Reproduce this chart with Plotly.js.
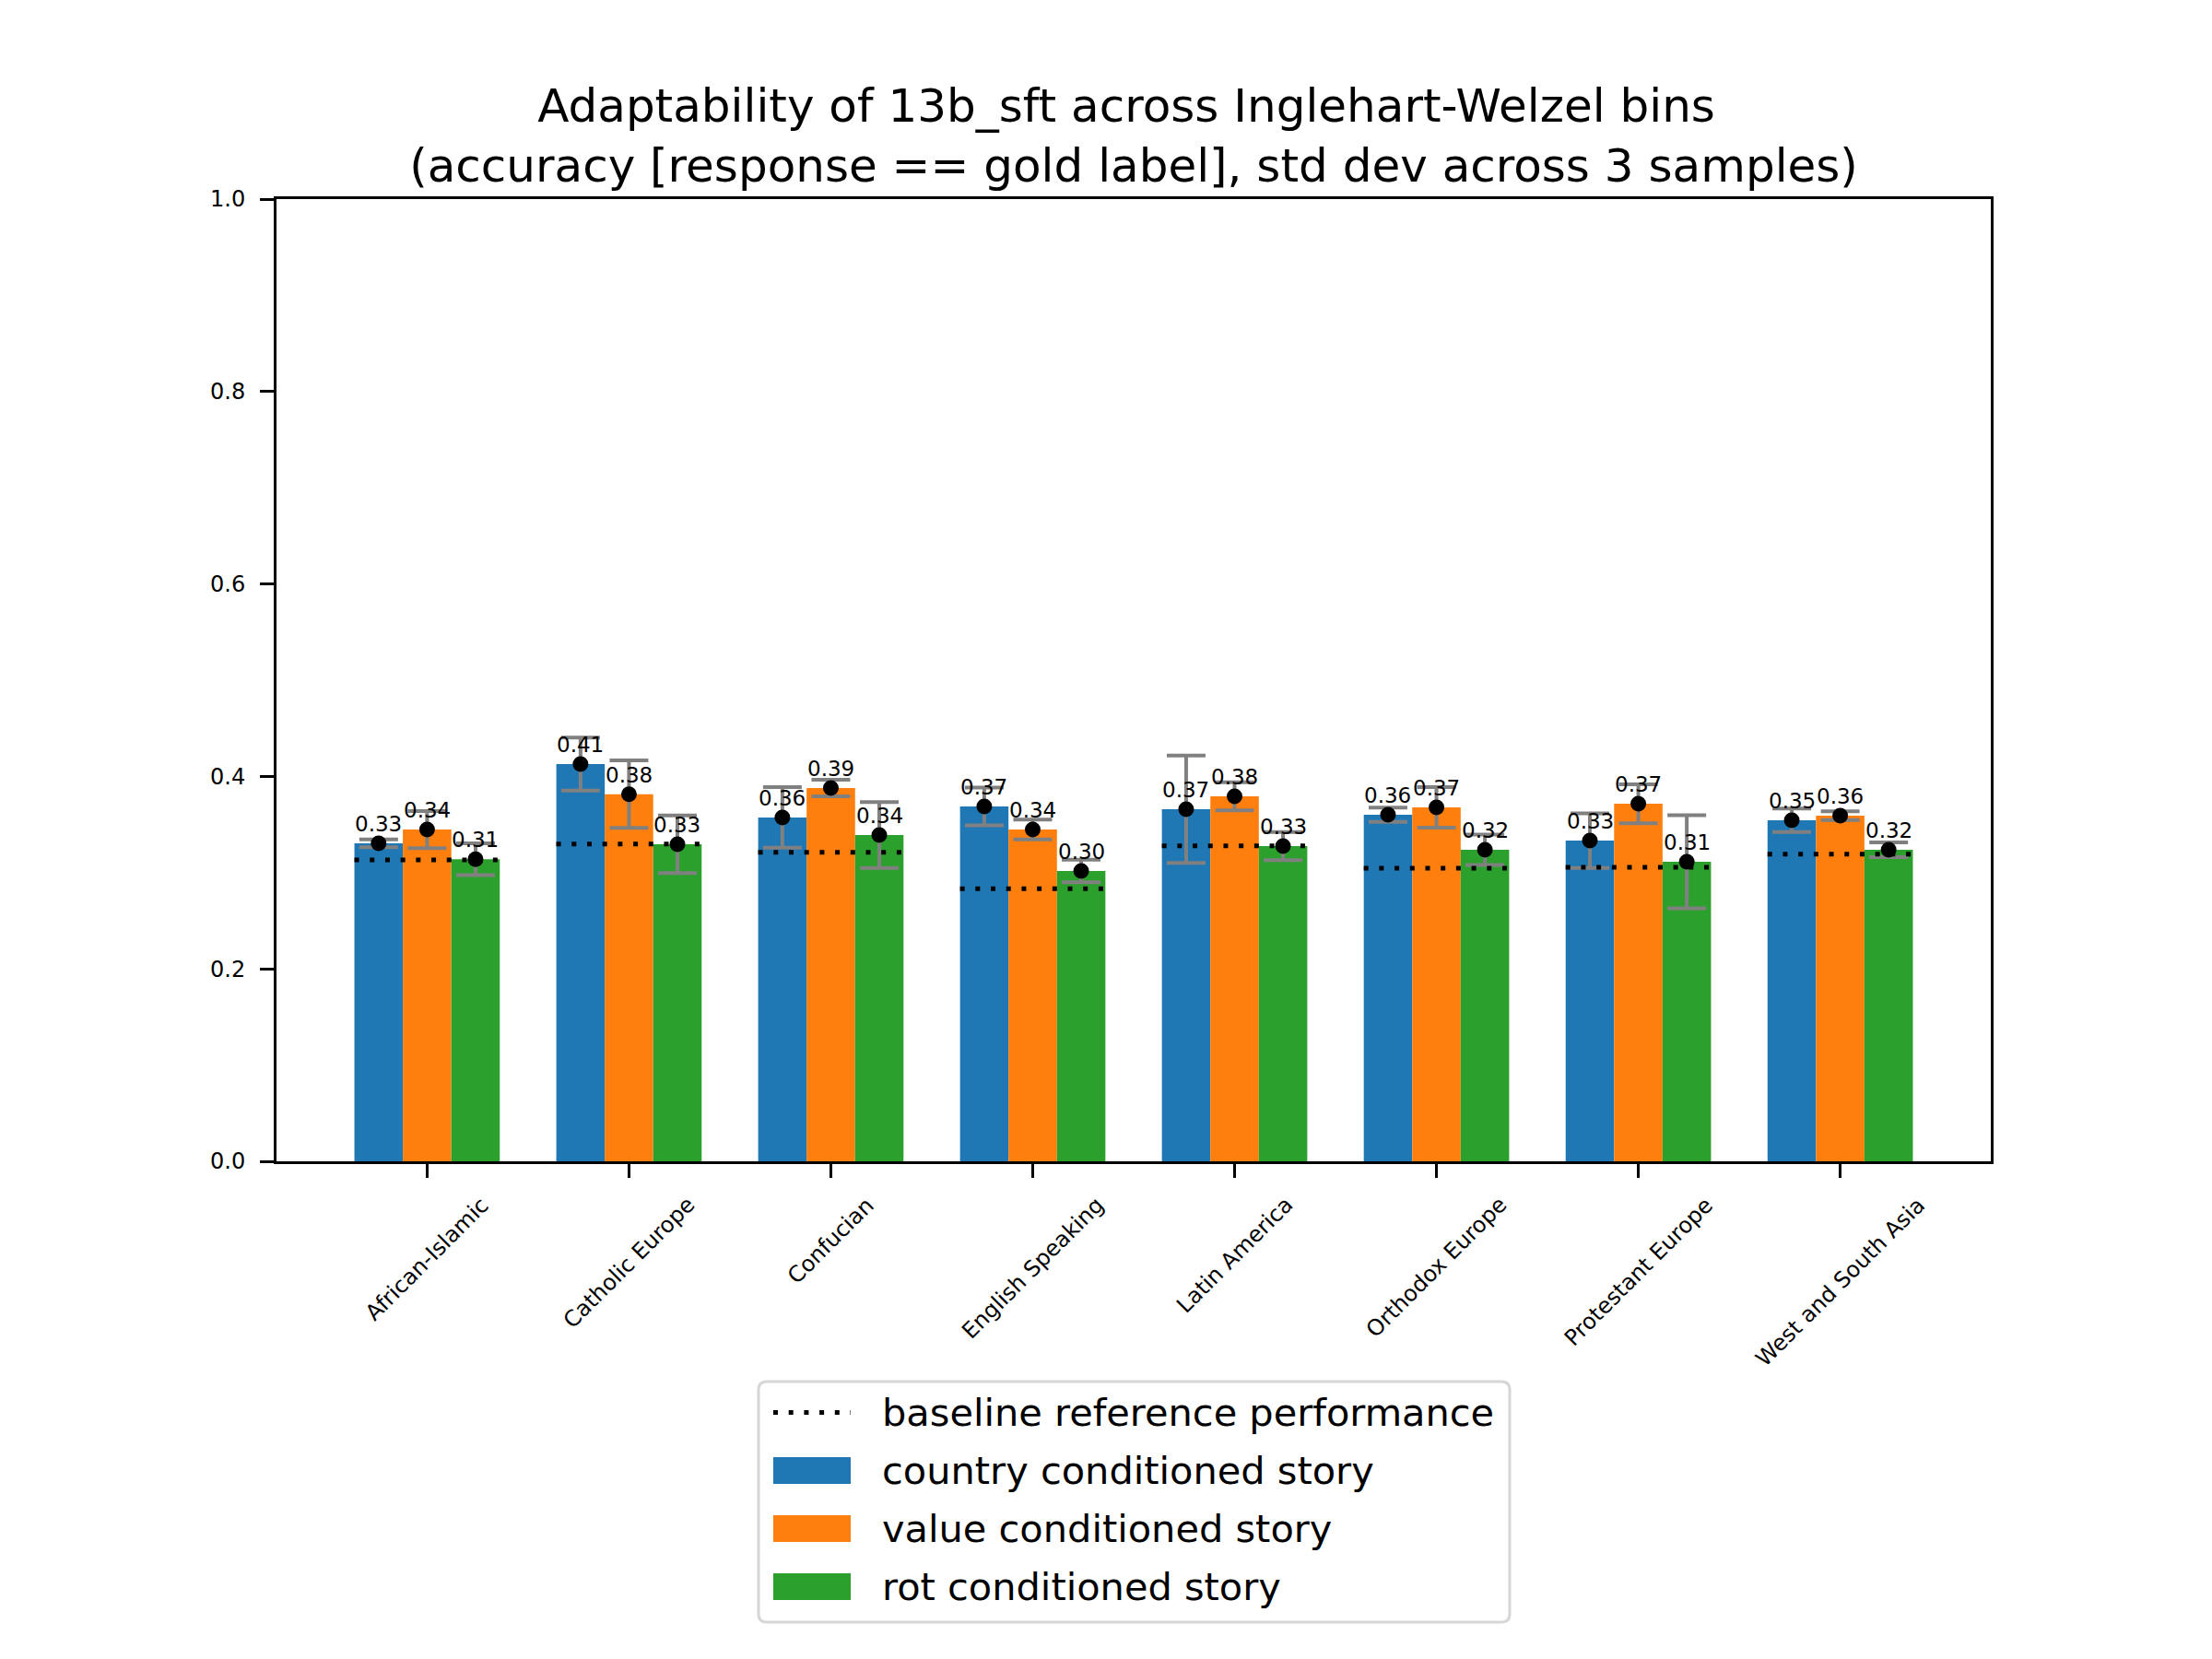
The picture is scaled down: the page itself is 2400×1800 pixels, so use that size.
<!DOCTYPE html>
<html>
<head>
<meta charset="utf-8">
<script src="https://cdn.plot.ly/plotly-3.0.1.min.js"></script>
<style>html,body{margin:0;padding:0;background:#fff;}#chart{width:2400px;height:1800px;}</style>
</head>
<body>
<div id="chart"></div>
<script>
// ---- data ----
const categories = ["African-Islamic", "Catholic Europe", "Confucian", "English Speaking", "Latin America", "Orthodox Europe", "Protestant Europe", "West and South Asia"];
const countryStory = [0.3305, 0.4128, 0.3573, 0.3688, 0.3659, 0.3602, 0.3333, 0.3544];
const countryStd   = [0.0040, 0.0276, 0.0315, 0.0197, 0.0559, 0.0074, 0.0284, 0.0121];
const valueStory   = [0.3448, 0.3815, 0.3879, 0.3448, 0.3793, 0.3678, 0.3716, 0.3592];
const valueStd     = [0.0193, 0.0351, 0.0087, 0.0103, 0.0145, 0.0211, 0.0202, 0.0045];
const rotStory     = [0.3139, 0.3295, 0.3391, 0.3017, 0.3276, 0.3238, 0.3113, 0.3238];
const rotStd       = [0.0166, 0.0299, 0.0342, 0.0118, 0.0146, 0.0158, 0.0484, 0.0077];
const baseline     = [0.3132, 0.3298, 0.3212, 0.2832, 0.3279, 0.3046, 0.3056, 0.3193];
const seriesNames  = ["country conditioned story", "value conditioned story", "rot conditioned story"];
const baselineName = "baseline reference performance";
const yTicks = [0, 0.2, 0.4, 0.6, 0.8, 1.0];
const titleLines = ["Adaptability of 13b_sft across Inglehart-Welzel bins\u00a0", "(accuracy [response == gold label], std dev across 3 samples)"];

// ---- styling ----
const colors = ["#1f77b4", "#ff7f0e", "#2ca02c"];
const FONT = "DejaVu Sans";
const barW = 0.24;
const offsets = [-barW, 0, barW];
const W = 2400, H = 1800;
const M = {l: 300, r: 240, t: 216, b: 540};
const plotW = W - M.l - M.r, plotH = H - M.t - M.b;
const px2x = p => (p - M.l) / plotW;       // pixel -> paper x
const px2y = p => (H - M.b - p) / plotH;   // pixel -> paper y
const dotDash = "5px,11.7px";

const seriesVals = [countryStory, valueStory, rotStory];
const seriesStd = [countryStd, valueStd, rotStd];
const idx = categories.map((_, i) => i);

const traces = [];
// bars
seriesVals.forEach((vals, s) => {
  traces.push({
    type: "bar", name: seriesNames[s],
    x: idx.map(i => i + offsets[s]), y: vals, width: barW,
    marker: {color: colors[s], line: {width: 0}},
    showlegend: false, hoverinfo: "skip"
  });
});
// error bars
seriesVals.forEach((vals, s) => {
  traces.push({
    type: "scatter", mode: "markers",
    x: idx.map(i => i + offsets[s]), y: vals,
    marker: {size: 2, color: "rgba(0,0,0,0)"},
    error_y: {type: "data", array: seriesStd[s], visible: true, color: "#808080", thickness: 4, width: 21},
    showlegend: false, hoverinfo: "skip"
  });
});
// baseline dotted lines
const bx = [], by = [];
idx.forEach(i => { bx.push(i - 1.5 * barW, i + 1.5 * barW, null); by.push(baseline[i], baseline[i], null); });
traces.push({
  type: "scatter", mode: "lines", name: baselineName, x: bx, y: by,
  line: {color: "black", width: 5, dash: dotDash}, showlegend: false, hoverinfo: "skip"
});
// mean dots
seriesVals.forEach((vals, s) => {
  traces.push({
    type: "scatter", mode: "markers",
    x: idx.map(i => i + offsets[s]), y: vals,
    marker: {size: 17, color: "black"}, showlegend: false, hoverinfo: "skip"
  });
});

const annotations = [];
// value labels
seriesVals.forEach((vals, s) => {
  vals.forEach((v, i) => {
    annotations.push({
      x: i + offsets[s], y: v, xref: "x", yref: "y", text: v.toFixed(2),
      showarrow: false, xanchor: "center", yanchor: "bottom", yshift: 6,
      font: {family: FONT, size: 23, color: "black"}
    });
  });
});
// rotated category labels
categories.forEach((c, i) => {
  annotations.push({
    x: i, y: px2y(1292), xref: "x", yref: "paper", text: c, textangle: -45,
    showarrow: false, xanchor: "center", yanchor: "top", borderpad: 0,
    font: {family: FONT, size: 24, color: "black"}
  });
});

// manual legend
const legLeft = 823, legRight = 1638, legTop = 1499, legBottom = 1760, legR = 9;
const rowY = [1532.5, 1595.5, 1658.5, 1721.5];
const patchL = 839, patchR = 923, patchH = 29, textX = 956;
const shapes = [];
function roundRectPath(l, r, t, b, rad) {
  const X = px2x, Y = px2y;
  return "M" + X(l + rad) + "," + Y(t) +
    " L" + X(r - rad) + "," + Y(t) + " Q" + X(r) + "," + Y(t) + " " + X(r) + "," + Y(t + rad) +
    " L" + X(r) + "," + Y(b - rad) + " Q" + X(r) + "," + Y(b) + " " + X(r - rad) + "," + Y(b) +
    " L" + X(l + rad) + "," + Y(b) + " Q" + X(l) + "," + Y(b) + " " + X(l) + "," + Y(b - rad) +
    " L" + X(l) + "," + Y(t + rad) + " Q" + X(l) + "," + Y(t) + " " + X(l + rad) + "," + Y(t) + " Z";
}
shapes.push({
  type: "path", xref: "paper", yref: "paper",
  path: roundRectPath(legLeft, legRight, legTop, legBottom, legR),
  line: {color: "#d6d6d6", width: 3}, fillcolor: "rgba(255,255,255,0.8)", layer: "above"
});
shapes.push({
  type: "line", xref: "paper", yref: "paper",
  x0: px2x(patchL), x1: px2x(patchR), y0: px2y(rowY[0]), y1: px2y(rowY[0]),
  line: {color: "black", width: 5, dash: dotDash}, layer: "above"
});
seriesNames.forEach((n, s) => {
  shapes.push({
    type: "rect", xref: "paper", yref: "paper",
    x0: px2x(patchL), x1: px2x(patchR),
    y0: px2y(rowY[s + 1] + patchH / 2), y1: px2y(rowY[s + 1] - patchH / 2),
    line: {width: 0}, fillcolor: colors[s], layer: "above"
  });
});
[baselineName].concat(seriesNames).forEach((n, k) => {
  annotations.push({
    x: px2x(textX), y: px2y(rowY[k]), xref: "paper", yref: "paper", text: n,
    showarrow: false, xanchor: "left", yanchor: "middle", borderpad: 0,
    font: {family: FONT, size: 41.5, color: "black"}
  });
});

const layout = {
  width: W, height: H,
  margin: M,
  paper_bgcolor: "white", plot_bgcolor: "white",
  font: {family: FONT, color: "black"},
  showlegend: false,
  title: {
    text: titleLines.join("<br>"),
    font: {family: FONT, size: 50, color: "black"},
    x: 0.5, xref: "paper", xanchor: "center",
    y: 1 - 132 / H, yref: "container", yanchor: "top"
  },
  xaxis: {
    range: [-0.746, categories.length - 1 + 0.746],
    tickvals: idx, showticklabels: false,
    ticks: "outside", ticklen: 15, tickwidth: 3, tickcolor: "black",
    showline: true, linecolor: "black", linewidth: 3, mirror: true,
    showgrid: false, zeroline: false, fixedrange: true
  },
  yaxis: {
    range: [0, 1], tickvals: yTicks, tickformat: ".1f",
    ticks: "outside", ticklen: 15, tickwidth: 3, tickcolor: "black",
    ticklabelstandoff: 11,
    tickfont: {family: FONT, size: 24, color: "black"},
    showline: true, linecolor: "black", linewidth: 3, mirror: true,
    showgrid: false, zeroline: false, fixedrange: true
  },
  annotations: annotations,
  shapes: shapes
};

Plotly.newPlot("chart", traces, layout, {staticPlot: true, displayModeBar: false});
</script>
</body>
</html>
